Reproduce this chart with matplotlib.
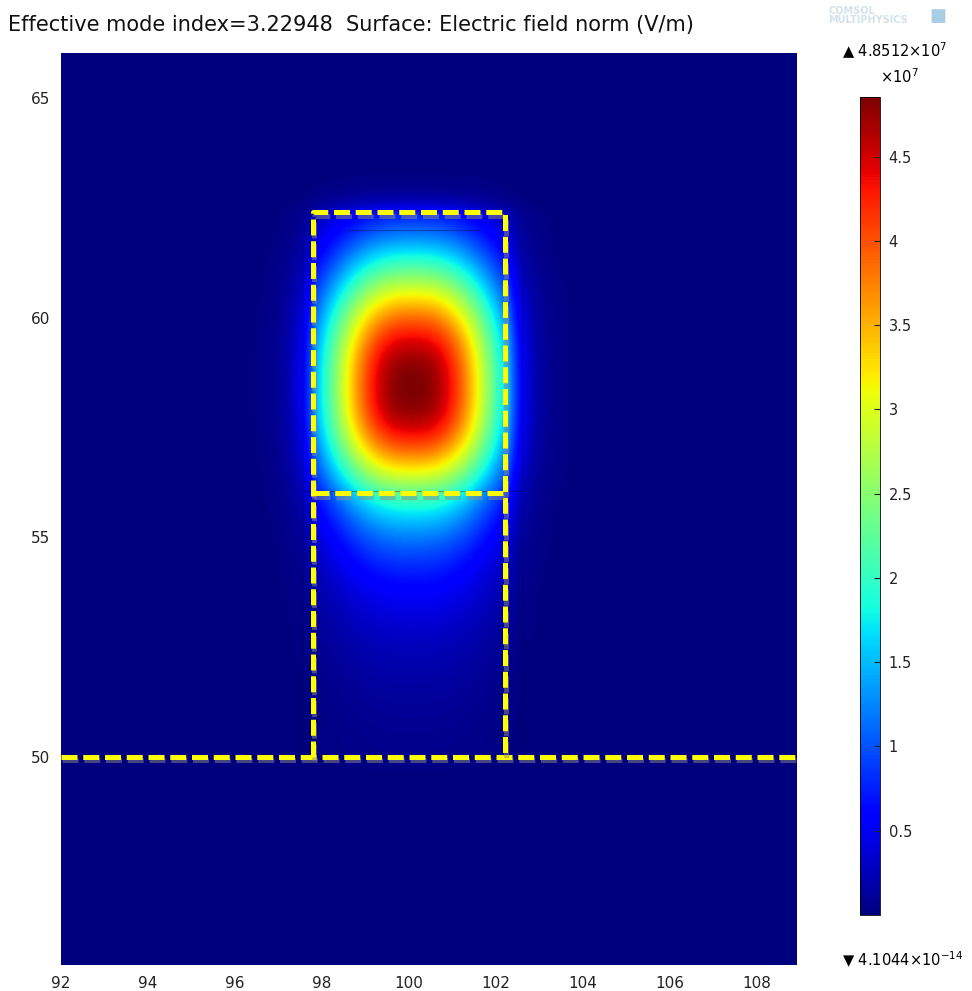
import numpy as np
import matplotlib
matplotlib.use("Agg")
import matplotlib.pyplot as plt
import matplotlib.patheffects as pe

# -----------------------------
# Values
# -----------------------------
n_eff = 3.22948
e_max = 4.8512e7
e_min_label = "4.1044"

x_range = (92.0, 108.92)
y_range = (45.26, 66.02)
x_ticks = [92, 94, 96, 98, 100, 102, 104, 106, 108]
y_ticks = [50, 55, 60, 65]
cbar_ticks = [0.5, 1, 1.5, 2, 2.5, 3, 3.5, 4, 4.5]

# ridge waveguide outline
core_left, core_right = 97.8, 102.2
core_top, core_mid, slab_top = 62.4, 56.0, 50.0

# mode shape estimate (peak position, widths, flatness)
peak_x, peak_y = 100.08, 58.4
width_x, power_x = 2.08, 2.5
width_up, width_down, power_y = 3.03, 2.7, 2.3
decay_out_x = 3.0
decay_below = 0.62

# -----------------------------
# Field map
# -----------------------------
xs = np.linspace(x_range[0], x_range[1], 700)
ys = np.linspace(y_range[0], y_range[1], 800)
X, Y = np.meshgrid(xs, ys)

half_w = (core_right - core_left) / 2
dx = np.abs(X - peak_x)
fx = np.exp(-(dx / width_x) ** power_x)
edge_x = np.exp(-(half_w / width_x) ** power_x)
fx = np.where(dx > half_w, edge_x * np.exp(-decay_out_x * (dx - half_w)), fx)

dy = Y - peak_y
fy = np.where(dy >= 0,
              np.exp(-(np.abs(dy) / width_up) ** power_y),
              np.exp(-(np.abs(dy) / width_down) ** power_y))
at_mid = np.exp(-((peak_y - core_mid) / width_down) ** power_y)
fy = np.where(Y < core_mid, at_mid * np.exp(-decay_below * (core_mid - Y)), fy)
at_top = np.exp(-((core_top - peak_y) / width_up) ** power_y)
fy = np.where(Y > core_top, at_top * np.exp(-4.0 * (Y - core_top)), fy)
at_slab = at_mid * np.exp(-decay_below * (core_mid - slab_top))
fy = np.where(Y < slab_top, at_slab * np.exp(-3.0 * (slab_top - Y)), fy)

field = e_max * fx * fy

# -----------------------------
# Plot
# -----------------------------
fig = plt.figure(figsize=(9.72, 9.91), dpi=100)
ax = fig.add_axes([0.0628, 0.0262, 0.757, 0.920])

im = ax.imshow(field, extent=[x_range[0], x_range[1], y_range[0], y_range[1]],
               origin="lower", cmap="jet", vmin=0, vmax=e_max,
               aspect="auto", interpolation="bilinear")

# faint mesh / domain edges
faint = dict(color="#000033", linewidth=0.8, alpha=0.35)
ax.plot([97.55, 97.55], [50.2, 61.7], **faint)
ax.plot([102.6, 102.6], [50.2, 61.7], **faint)
ax.plot([97.55, 102.6], [core_mid + 0.05, core_mid + 0.05], **faint)
ax.plot([98.6, 101.6], [62.0, 62.0], **faint)

dash_style = dict(color="#ffff00", linewidth=3.6, linestyle=(0, (3.2, 1.15)),
                  dash_capstyle="butt",
                  path_effects=[pe.SimpleLineShadow(offset=(0.8, -2.6), shadow_color="#8a8a8a", alpha=0.5),
                                pe.Normal()])
ax.plot([x_range[0], x_range[1]], [slab_top, slab_top], **dash_style)
ax.plot([core_left, core_left, core_right, core_right],
        [slab_top, core_top, core_top, slab_top], **dash_style)
ax.plot([core_left, core_right], [core_mid, core_mid], **dash_style)

ax.set_xlim(*x_range)
ax.set_ylim(*y_range)
ax.set_xticks(x_ticks)
ax.set_yticks(y_ticks)
ax.tick_params(length=0, labelsize=11, colors="#222222", pad=8)
for s in ax.spines.values():
    s.set_visible(False)

fig.text(0.008, 0.975, f"Effective mode index={n_eff}  Surface: Electric field norm (V/m)",
         fontsize=15, ha="left", va="center", color="#111111")
fig.text(0.852, 0.984, "COMSOL\nMULTIPHYSICS", fontsize=7, color="#d3e2ea",
         ha="left", va="center", linespacing=0.85, fontweight="bold")
fig.text(0.965, 0.984, "■", fontsize=13, color="#a9cde3", ha="center", va="center")

# -----------------------------
# Colorbar
# -----------------------------
cax = fig.add_axes([0.885, 0.0767, 0.0206, 0.825])
cb = fig.colorbar(im, cax=cax)
cb.set_ticks([t * 1e7 for t in cbar_ticks])
cb.set_ticklabels([f"{t:g}" for t in cbar_ticks])
cax.tick_params(labelsize=10.5, length=4, width=0.8, direction="in", pad=6, colors="#222222")
cb.outline.set_linewidth(0.6)
fig.text(0.905, 0.923, r"$\times$10$^7$", fontsize=10.5, ha="left", va="center")
fig.text(0.866, 0.949, "▲ 4.8512" + r"$\times$10$^7$", fontsize=10.5, ha="left", va="center")
fig.text(0.866, 0.031, "▼ " + e_min_label + r"$\times$10$^{-14}$", fontsize=10.5, ha="left", va="center")

plt.savefig("out.png", dpi=100)
